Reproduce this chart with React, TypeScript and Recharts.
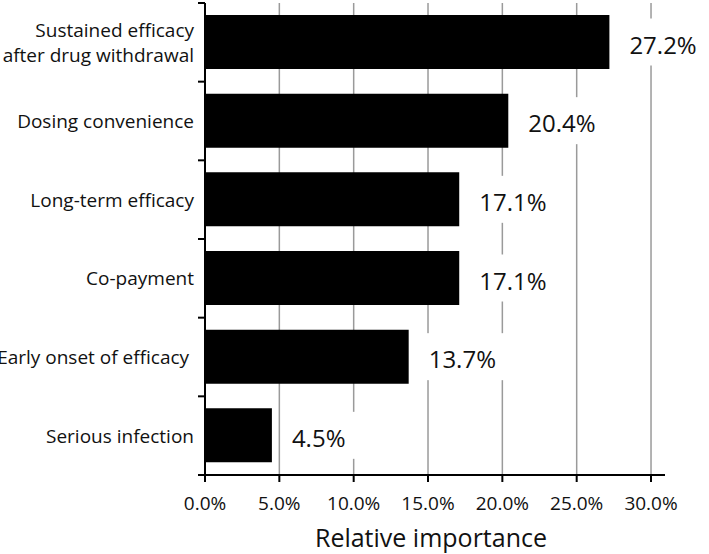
import React from 'react';
import { BarChart, Bar, XAxis, YAxis, CartesianGrid, LabelList, Label } from 'recharts';

const attributes = [
  'Sustained efficacy\nafter drug withdrawal',
  'Dosing convenience',
  'Long-term efficacy',
  'Co-payment',
  'Early onset of efficacy ',
  'Serious infection'
];
const importance = [27.2, 20.4, 17.1, 17.1, 13.7, 4.5];
const xTicks = [0, 5, 10, 15, 20, 25, 30];

const data = attributes.map((name, i) => ({ name, value: importance[i] }));

const WIDTH = 709;
const HEIGHT = 554;
const MARGIN = { top: 3, right: 44, bottom: 0, left: 0 };
const X_AXIS_HEIGHT = 79;
const PLOT_HEIGHT = HEIGHT - MARGIN.top - MARGIN.bottom - X_AXIS_HEIGHT;
const BAND = PLOT_HEIGHT / attributes.length;
const FONT = '"Open Sans", "Noto Sans", sans-serif';
const INK = '#111';

const CategoryTick = (props: any) => {
  const { x, y, payload, index } = props;
  const lines = String(payload.value).split('\n');
  const lineH = 25;
  const start = y - ((lines.length - 1) * lineH) / 2;
  const lx = x + 4;
  return (
    <g>
      <line x1={lx} x2={lx + 7} y1={y - BAND / 2} y2={y - BAND / 2} stroke="#000" strokeWidth={2} />
      {index === attributes.length - 1 && (
        <line x1={lx} x2={lx + 7} y1={y + BAND / 2} y2={y + BAND / 2} stroke="#000" strokeWidth={2} />
      )}
      <text textAnchor="end" fontFamily={FONT} fontSize={19} fill={INK}>
        {lines.map((l, i) => (
          <tspan key={i} x={x} y={start + i * lineH} dominantBaseline="central" style={{ whiteSpace: 'pre' }}>
            {l}
          </tspan>
        ))}
      </text>
    </g>
  );
};

const ValueLabel = (props: any) => {
  const { x, y, width, height, value } = props;
  const tx = x + width + 20;
  const cy = y + height / 2;
  return (
    <g>
      <rect x={tx - 8} y={cy - 23.5} width={84} height={47} fill="#fff" />
      <text x={tx} y={cy + 2} dominantBaseline="central" fontFamily={FONT} fontSize={24} fill={INK}>
        {`${Number(value).toFixed(1)}%`}
      </text>
    </g>
  );
};

export default function App() {
  return (
    <div style={{ position: 'absolute', left: 0, top: 0, width: WIDTH, height: HEIGHT, background: '#fff' }}>
      <BarChart width={WIDTH} height={HEIGHT} data={data} layout="vertical" margin={MARGIN}>
        <CartesianGrid horizontal={false} verticalValues={xTicks} stroke="#9a9a9a" strokeWidth={1.5} />
        <XAxis
          type="number"
          domain={[0, 30.94]}
          ticks={xTicks}
          allowDataOverflow
          height={X_AXIS_HEIGHT}
          tickFormatter={(v: number) => `${v.toFixed(1)}%`}
          axisLine={{ stroke: '#000', strokeWidth: 2 }}
          tickLine={{ stroke: '#000', strokeWidth: 2 }}
          tickSize={7}
          tickMargin={15}
          tick={{ fontFamily: FONT, fontSize: 19, fill: INK }}
        >
          <Label
            value="Relative importance"
            position="insideBottom"
            offset={7}
            dx={-4}
            style={{ fontFamily: FONT, fontSize: 25, fill: INK }}
          />
        </XAxis>
        <YAxis
          type="category"
          dataKey="name"
          width={205}
          axisLine={{ stroke: '#000', strokeWidth: 2 }}
          tickLine={false}
          tickSize={7}
          tickMargin={4}
          interval={0}
          tick={<CategoryTick />}
        />
        <Bar dataKey="value" fill="#000" barSize={54} isAnimationActive={false}>
          <LabelList dataKey="value" content={<ValueLabel />} />
        </Bar>
      </BarChart>
    </div>
  );
}
